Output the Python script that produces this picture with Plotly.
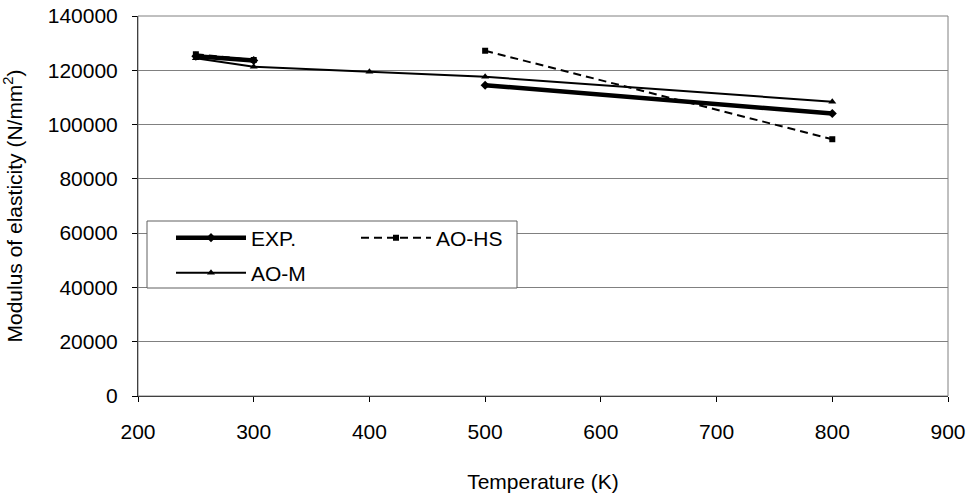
import plotly.graph_objects as go

temperature = [250, 300, 400, 500, 800]
exp_vals = [125200, 123600, None, 114500, 104100]
ao_hs_vals = [125900, 123800, None, 127200, 94600]
ao_m_vals = [124400, 121300, 119500, 117600, 108400]

x_ticks = [200, 300, 400, 500, 600, 700, 800, 900]
y_ticks = [0, 20000, 40000, 60000, 80000, 100000, 120000, 140000]

FONT = "Liberation Sans, Arial, sans-serif"
FS = 21

fig = go.Figure()
fig.add_trace(go.Scatter(
    x=temperature, y=ao_m_vals, name="AO-M", mode="lines+markers",
    line=dict(color="black", width=2),
    marker=dict(symbol="triangle-up", size=7, color="black"),
    legend="legend2", connectgaps=False))
fig.add_trace(go.Scatter(
    x=temperature, y=ao_hs_vals, name="AO-HS", mode="lines+markers",
    line=dict(color="black", width=2, dash="8px,5px"),
    marker=dict(symbol="square", size=6, color="black"),
    legend="legend", connectgaps=False))
fig.add_trace(go.Scatter(
    x=temperature, y=exp_vals, name="EXP.", mode="lines+markers",
    line=dict(color="black", width=4.5),
    marker=dict(symbol="diamond", size=7, color="black"),
    legend="legend", connectgaps=False))

fig.update_layout(
    width=974, height=500,
    margin=dict(l=138, r=26, t=16, b=104, autoexpand=False),
    paper_bgcolor="white", plot_bgcolor="white",
    font=dict(family=FONT, size=FS, color="black"),
    showlegend=True,
    legend=dict(orientation="h", x=(171 - 138) / 810, y=(396 - 238) / 380,
                xanchor="left", yanchor="middle",
                bgcolor="rgba(0,0,0,0)", borderwidth=0,
                itemwidth=70,
                entrywidth=100, entrywidthmode="pixels",
                traceorder="reversed",
                font=dict(family=FONT, size=FS, color="black")),
    legend2=dict(orientation="h", x=(171 - 138) / 810, y=(396 - 273) / 380,
                 xanchor="left", yanchor="middle",
                 bgcolor="rgba(0,0,0,0)", borderwidth=0,
                 itemwidth=70,
                 font=dict(family=FONT, size=FS, color="black")),
    shapes=[
        dict(type="rect", xref="paper", yref="paper",
             x0=(147 - 138) / 810, x1=(517 - 138) / 810,
             y0=(396 - 288) / 380, y1=(396 - 221) / 380,
             line=dict(color="#606060", width=1), fillcolor="white", layer="above"),
        dict(type="rect", xref="paper", yref="paper", x0=0, x1=1, y0=0, y1=1,
             line=dict(color="#808080", width=1), layer="above"),
    ],
)

fig.update_xaxes(
    range=[200, 900], tickvals=x_ticks, ticktext=[str(v) for v in x_ticks],
    showgrid=False, zeroline=False,
    showline=True, linecolor="black", linewidth=1,
    ticks="outside", ticklen=5, tickcolor="black",
    ticklabelstandoff=12,
    tickfont=dict(family=FONT, size=FS),
    title=dict(text="Temperature (K)", font=dict(family=FONT, size=FS), standoff=32),
)
fig.update_yaxes(
    range=[0, 140000], tickvals=y_ticks, ticktext=[str(v) for v in y_ticks],
    showgrid=True, gridcolor="#808080", gridwidth=1, zeroline=False,
    showline=True, linecolor="black", linewidth=1,
    ticks="outside", ticklen=5, tickcolor="black",
    ticklabelstandoff=10,
    tickfont=dict(family=FONT, size=FS),
    title=dict(text="Modulus of elasticity (N/mm<sup>2</sup>)",
               font=dict(family=FONT, size=FS), standoff=20),
)

fig.write_html("out.html")
